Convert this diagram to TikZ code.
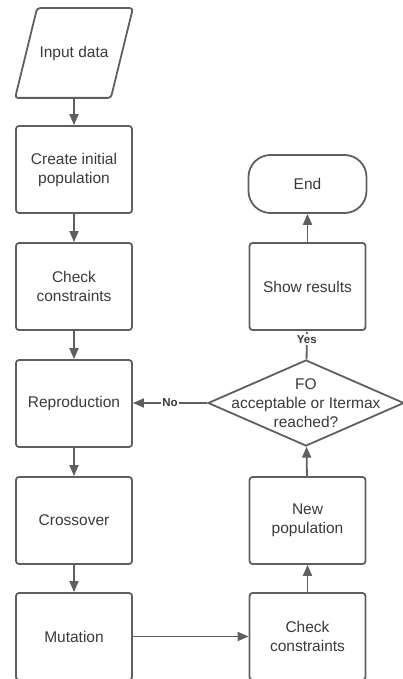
\documentclass[tikz,border=0pt]{standalone}
\usepackage{fontspec}
\setmainfont{Liberation Sans}
\usetikzlibrary{arrows.meta,shapes.geometric}
\definecolor{linegray}{HTML}{5F5F5F}
\definecolor{textgray}{HTML}{3A3A3A}

\tikzset{
    txt/.style={align=center, text=textgray, font=\fontsize{15.5}{19}\selectfont},
    procbox/.style={txt, draw=linegray, rounded corners=3pt, minimum width=116pt, minimum height=87pt},
    iobox/.style={txt, minimum width=116pt, minimum height=88pt},
    endbox/.style={txt, draw=linegray, rounded corners=22pt, minimum width=118pt, minimum height=58pt},
    decision/.style={draw=linegray, diamond, inner sep=0pt, minimum width=196pt, minimum height=86pt},
    lbl/.style={fill=white, inner sep=1.5pt, text=textgray, font=\fontsize{11.5}{13}\selectfont\bfseries}
}

\begin{document}
\begin{tikzpicture}[x=1pt, y=-1pt, line width=1.8pt, >={Triangle[length=11pt, width=9pt]}]
    \useasboundingbox (0,0) rectangle (403,679);
    % left column
    \node[iobox] (input) at (74,53) {Input data};
    \draw[linegray, rounded corners=3pt] (input.south west) -- ([xshift=-22pt]input.south east)
        -- (input.north east) -- ([xshift=22pt]input.north west) -- cycle;
    \node[procbox] (init) at (74,169.5) {Create initial\\population};
    \node[procbox] (check) at (74,286.5) {Check\\constraints};
    \node[procbox] (repro) at (74,403.5) {Reproduction};
    \node[procbox] (cross) at (74,520.5) {Crossover};
    \node[procbox] (mut) at (74,636.5) {Mutation};
    % right column
    \node[endbox] (end) at (307.5,184) {End};
    \node[procbox] (show) at (307.5,286.5) {Show results};
    \node[decision] (dec) at (306,403) {};
    \node[txt] (dectext) at (dec.center) {FO\\acceptable or Itermax\\reached?};
    \node[procbox] (newpop) at (307.5,520.5) {New\\population};
    \node[procbox] (recheck) at (307.5,636.5) {Check\\constraints};
    % connectors
    \draw[->, linegray] (input) -- (init);
    \draw[->, linegray] (init) -- (check);
    \draw[->, linegray] (check) -- (repro);
    \draw[->, linegray] (repro) -- (cross);
    \draw[->, linegray] (cross) -- (mut);
    \draw[->, linegray] (mut) -- (recheck);
    \draw[->, linegray] (recheck) -- (newpop);
    \draw[->, linegray] (newpop) -- (dec);
    \draw[->, linegray] (dec) -- node[lbl, pos=0.7] {Yes} (show);
    \draw[->, linegray] (dec.west) -- node[lbl] {No} (repro.east |- dec.west);
    \draw[->, linegray] (show) -- (end);
\end{tikzpicture}
\end{document}
